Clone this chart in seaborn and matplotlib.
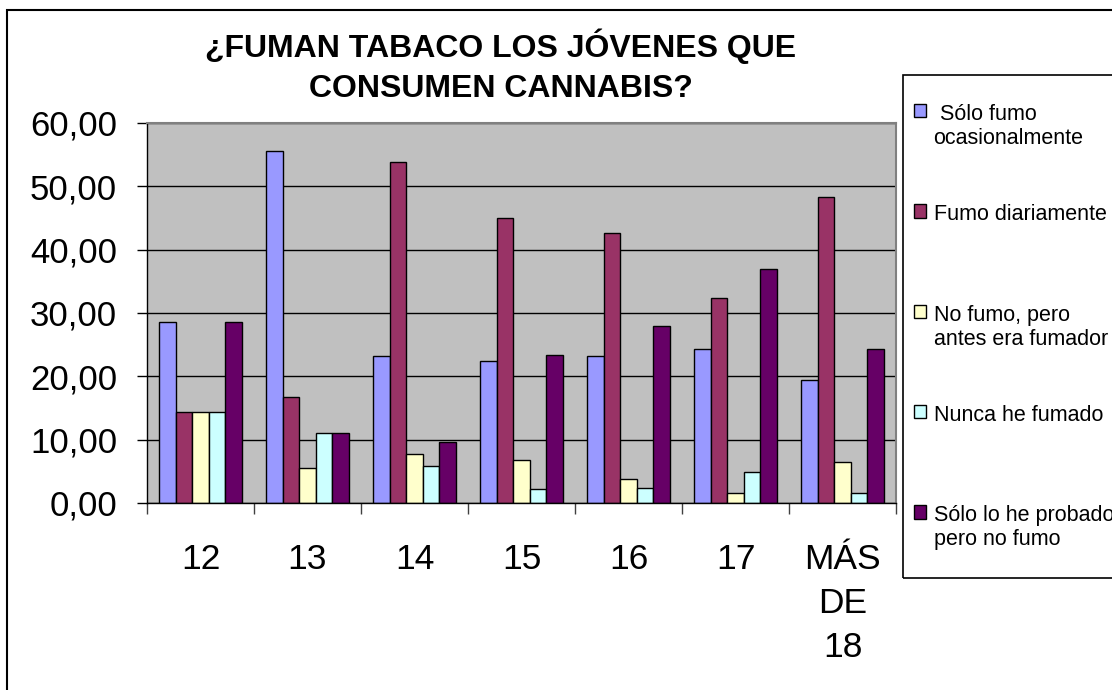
import pandas as pd
import matplotlib.pyplot as plt
import seaborn as sns
from matplotlib.patches import Rectangle
from matplotlib.ticker import FuncFormatter, FixedLocator

# datos (porcentajes por edad)
edades = ["12", "13", "14", "15", "16", "17", "MÁS\nDE\n18"]
series = [" Sólo fumo\nocasionalmente", "Fumo diariamente",
          "No fumo, pero\nantes era fumador", "Nunca he fumado",
          "Sólo lo he probado\npero no fumo"]
ocasional = [28.57, 55.56, 23.2, 22.5, 23.2, 24.3, 19.5]
diario = [14.29, 16.67, 53.8, 45.0, 42.6, 32.3, 48.3]
exfumador = [14.29, 5.56, 7.8, 6.75, 3.75, 1.6, 6.45]
nunca = [14.29, 11.11, 5.85, 2.2, 2.4, 4.9, 1.6]
probado = [28.57, 11.11, 9.6, 23.4, 28.0, 37.0, 24.3]
colores = ["#9999FF", "#993366", "#FFFFCC", "#CCFFFF", "#660066"]

valores = [ocasional, diario, exfumador, nunca, probado]
rows = []
for s, vals in zip(series, valores):
    for e, v in zip(edades, vals):
        rows.append({"edad": e, "serie": s, "valor": v})
df = pd.DataFrame(rows)

sns.set_style("white")
plt.rcParams['font.family'] = ['Liberation Sans', 'DejaVu Sans']
plt.rcParams['text.color'] = 'black'
plt.rcParams['xtick.color'] = 'black'
plt.rcParams['ytick.color'] = 'black'

W, H = 1112, 690
fig = plt.figure(figsize=(W / 100, H / 100), dpi=100)
ax = fig.add_axes([147 / W, 1 - 503 / H, (896 - 147) / W, 380 / H])
ax.set_facecolor("#C0C0C0")

sns.barplot(data=df, x="edad", y="valor", hue="serie", order=edades,
            hue_order=series, palette=colores, width=0.77, saturation=1,
            edgecolor="black", linewidth=1, ax=ax, legend=True)

ax.set_xlim(-0.5, len(edades) - 0.5)
ax.set_ylim(0, 60)
ax.set_yticks(range(0, 61, 10))
ax.yaxis.set_major_formatter(FuncFormatter(lambda v, p: f"{v:.2f}".replace(".", ",")))
ax.set_axisbelow(True)
ax.yaxis.grid(True, color="black", linewidth=1)
ax.set_xlabel("")
ax.set_ylabel("")

ax.tick_params(axis="y", direction="out", length=7.5, width=1, color="black",
               pad=14, labelsize=25, left=True, labelcolor="black")
ax.tick_params(axis="x", which="major", length=0, pad=29, labelsize=25.5,
               labelcolor="black")
ax.xaxis.set_minor_locator(FixedLocator([i - 0.5 for i in range(len(edades) + 1)]))
ax.tick_params(axis="x", which="minor", direction="out", length=8, width=1,
               color="#404040", bottom=True)
for lbl in ax.get_xticklabels():
    lbl.set_linespacing(1.42)

for side in ["top", "right"]:
    ax.spines[side].set_color("#808080")
    ax.spines[side].set_linewidth(1.5)
for side in ["left", "bottom"]:
    ax.spines[side].set_color("black")
    ax.spines[side].set_linewidth(1)

# leyenda: cada entrada ocupa dos lineas para que queden espaciadas igual
handles, _ = ax.get_legend_handles_labels()
ax.get_legend().remove()
etiquetas = [s if "\n" in s else s + "\n" for s in series]
leg = fig.legend(handles, etiquetas, loc="upper left",
                 bbox_to_anchor=(914 / W, 1 - 104 / H),
                 frameon=False, borderpad=0, borderaxespad=0, fontsize=15.5,
                 handlelength=0.58, handleheight=0.58, handletextpad=0.33,
                 labelspacing=2.56, labelcolor="black")
# cuadrito alineado con la primera linea del texto
for col in leg._legend_handle_box.get_children():
    for item in col.get_children():
        item.align = "top"
fig.patches.append(Rectangle((903 / W, 1 - 578 / H), 0.3, (578 - 75) / H,
                             transform=fig.transFigure, fill=False,
                             edgecolor="black", linewidth=1.2))

# borde exterior
fig.patches.append(Rectangle((6.5 / W, -0.1), 1.2, 1 - 9.5 / H + 0.1,
                             transform=fig.transFigure, fill=False,
                             edgecolor="black", linewidth=1.5))

fig.text(501 / W, 1 - 66.5 / H, "¿FUMAN TABACO LOS JÓVENES QUE\nCONSUMEN CANNABIS?",
         ha="center", va="center", fontsize=23, fontweight="bold", linespacing=1.42,
         color="black")

fig.savefig("out.png", dpi=100)
